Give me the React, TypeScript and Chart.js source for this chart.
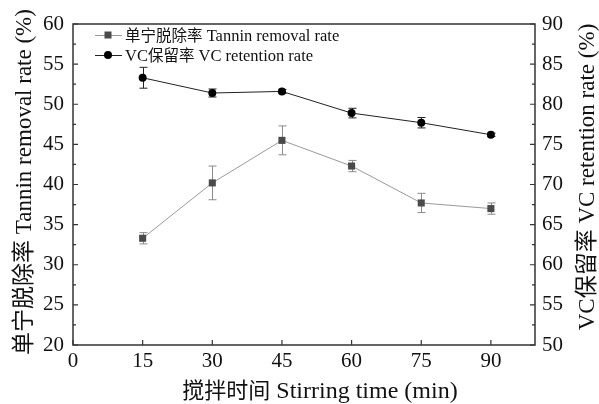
import React, { useEffect, useRef } from "react";
import { Chart, registerables } from "chart.js";

Chart.register(...registerables);

// ---- data ----
const stirringTimes = [15, 30, 45, 60, 75, 90];
const tanninRemoval = [33.3, 40.2, 45.5, 42.3, 37.7, 37.0];
const tanninError = [0.7, 2.1, 1.8, 0.7, 1.2, 0.7];
const vcRetention = [83.3, 81.4, 81.6, 78.9, 77.7, 76.2];
const vcError = [1.3, 0.5, 0.25, 0.6, 0.65, 0.2];

const xTickValues = [0, 15, 30, 45, 60, 75, 90];
const leftTickValues = [20, 25, 30, 35, 40, 45, 50, 55, 60];
const rightTickValues = [50, 55, 60, 65, 70, 75, 80, 85, 90];

const SERIF = "'Liberation Serif', 'Times New Roman', serif";
const CJK = "'Noto Sans CJK SC', sans-serif";

type Seg = { t: string; f: string };

function drawSegs(ctx: CanvasRenderingContext2D, segs: Seg[], x: number, y: number, align: "left" | "center") {
  const widths = segs.map((s) => {
    ctx.font = s.f;
    return ctx.measureText(s.t).width;
  });
  const total = widths.reduce((a, b) => a + b, 0);
  let cx = align === "center" ? x - total / 2 : x;
  ctx.textAlign = "left";
  ctx.textBaseline = "alphabetic";
  segs.forEach((s, i) => {
    ctx.font = s.f;
    ctx.fillText(s.t, cx, y);
    cx += widths[i];
  });
}

const TANNIN_LINE = "#9a9a9a";
const TANNIN_MARK = "#4a4a4a";
const TANNIN_ERR = "#8a8a8a";
const VC_LINE = "#222222";
const VC_MARK = "#000000";
const VC_ERR = "#222222";

const customPlugin = {
  id: "customDecor",
  beforeDraw(chart: any) {
    const ctx = chart.ctx as CanvasRenderingContext2D;
    ctx.save();
    ctx.fillStyle = "#ffffff";
    ctx.fillRect(0, 0, chart.width, chart.height);
    ctx.restore();
  },
  beforeDatasetsDraw(chart: any) {
    const ctx = chart.ctx as CanvasRenderingContext2D;
    const xs = chart.scales.x;
    const sets = [
      { scale: chart.scales.yL, vals: tanninRemoval, errs: tanninError, color: TANNIN_ERR },
      { scale: chart.scales.yR, vals: vcRetention, errs: vcError, color: VC_ERR },
    ];
    ctx.save();
    ctx.lineWidth = 1;
    sets.forEach((s) => {
      ctx.strokeStyle = s.color;
      stirringTimes.forEach((t, i) => {
        const px = Math.round(xs.getPixelForValue(t)) + 0.5;
        const yt = s.scale.getPixelForValue(s.vals[i] + s.errs[i]);
        const yb = s.scale.getPixelForValue(s.vals[i] - s.errs[i]);
        ctx.beginPath();
        ctx.moveTo(px, yt);
        ctx.lineTo(px, yb);
        ctx.moveTo(px - 4, yt);
        ctx.lineTo(px + 4, yt);
        ctx.moveTo(px - 4, yb);
        ctx.lineTo(px + 4, yb);
        ctx.stroke();
      });
    });
    ctx.restore();
  },
  afterDraw(chart: any) {
    const ctx = chart.ctx as CanvasRenderingContext2D;
    const a = chart.chartArea;
    const xs = chart.scales.x;
    const yl = chart.scales.yL;
    const yr = chart.scales.yR;
    ctx.save();
    // frame
    ctx.strokeStyle = "#333333";
    ctx.lineWidth = 1.5;
    ctx.strokeRect(a.left, a.top, a.right - a.left, a.bottom - a.top);

    // ticks
    ctx.lineWidth = 1.2;
    const major = 5;
    const minor = 3;
    ctx.beginPath();
    const drawY = (scale: any, vals: number[], side: "left" | "right") => {
      const all: { v: number; m: boolean }[] = [];
      vals.forEach((v, i) => {
        all.push({ v, m: true });
        if (i < vals.length - 1) all.push({ v: (v + vals[i + 1]) / 2, m: false });
      });
      all.forEach(({ v, m }) => {
        const py = scale.getPixelForValue(v);
        const len = m ? major : minor;
        if (side === "left") {
          ctx.moveTo(a.left, py);
          ctx.lineTo(a.left + len, py);
        } else {
          ctx.moveTo(a.right, py);
          ctx.lineTo(a.right - len, py);
        }
      });
    };
    drawY(yl, leftTickValues, "left");
    drawY(yr, rightTickValues, "right");
    xTickValues.forEach((v) => {
      const px = xs.getPixelForValue(v);
      ctx.moveTo(px, a.bottom);
      ctx.lineTo(px, a.bottom - major);
    });
    ctx.stroke();

    ctx.fillStyle = "#111111";
    // x title
    drawSegs(
      ctx,
      [
        { t: "搅拌时间", f: `22px ${CJK}` },
        { t: " Stirring time (min)", f: `24px ${SERIF}` },
      ],
      (a.left + a.right) / 2 + 16,
      398,
      "center"
    );
    // left title
    ctx.save();
    ctx.translate(31, 182);
    ctx.rotate(-Math.PI / 2);
    drawSegs(
      ctx,
      [
        { t: "单宁脱除率", f: `23px ${CJK}` },
        { t: " Tannin removal rate (%)", f: `23px ${SERIF}` },
      ],
      0,
      0,
      "center"
    );
    ctx.restore();
    // right title
    ctx.save();
    ctx.translate(594, 177);
    ctx.rotate(-Math.PI / 2);
    drawSegs(
      ctx,
      [
        { t: "VC", f: `23px ${SERIF}` },
        { t: "保留率", f: `23px ${CJK}` },
        { t: " VC retention rate (%)", f: `23px ${SERIF}` },
      ],
      0,
      0,
      "center"
    );
    ctx.restore();

    // legend
    const lx0 = 95;
    const lx1 = 122;
    const mx = 108;
    const tx = 125;
    const r1 = 35;
    const r2 = 55;
    ctx.lineWidth = 1;
    ctx.strokeStyle = TANNIN_LINE;
    ctx.beginPath();
    ctx.moveTo(lx0, r1 + 0.5);
    ctx.lineTo(lx1, r1 + 0.5);
    ctx.stroke();
    ctx.fillStyle = TANNIN_MARK;
    ctx.fillRect(mx - 3.5, r1 - 3.5, 7, 7);
    ctx.strokeStyle = VC_LINE;
    ctx.beginPath();
    ctx.moveTo(lx0, r2 + 0.5);
    ctx.lineTo(lx1, r2 + 0.5);
    ctx.stroke();
    ctx.fillStyle = VC_MARK;
    ctx.beginPath();
    ctx.arc(mx, r2, 4, 0, Math.PI * 2);
    ctx.fill();

    ctx.fillStyle = "#111111";
    drawSegs(
      ctx,
      [
        { t: "单宁脱除率", f: `15.5px ${CJK}` },
        { t: " Tannin removal rate", f: `16.5px ${SERIF}` },
      ],
      tx,
      r1 + 5.5,
      "left"
    );
    drawSegs(
      ctx,
      [
        { t: "VC", f: `16.5px ${SERIF}` },
        { t: "保留率", f: `15.5px ${CJK}` },
        { t: " VC retention rate", f: `16.5px ${SERIF}` },
      ],
      tx,
      r2 + 5.5,
      "left"
    );
    ctx.restore();
  },
};

export default function App() {
  const canvasRef = useRef<HTMLCanvasElement | null>(null);

  useEffect(() => {
    if (!canvasRef.current) return;
    const tickFont = { family: SERIF, size: 21 };
    const chart = new Chart(canvasRef.current, {
      type: "line",
      data: {
        datasets: [
          {
            label: "单宁脱除率 Tannin removal rate",
            data: stirringTimes.map((t, i) => ({ x: t, y: tanninRemoval[i] })),
            yAxisID: "yL",
            borderColor: TANNIN_LINE,
            borderWidth: 1,
            pointStyle: "rect",
            pointRadius: 5,
            pointBackgroundColor: TANNIN_MARK,
            pointBorderColor: TANNIN_MARK,
            pointBorderWidth: 0,
            tension: 0,
          },
          {
            label: "VC保留率 VC retention rate",
            data: stirringTimes.map((t, i) => ({ x: t, y: vcRetention[i] })),
            yAxisID: "yR",
            borderColor: VC_LINE,
            borderWidth: 1,
            pointStyle: "circle",
            pointRadius: 4,
            pointBackgroundColor: VC_MARK,
            pointBorderColor: VC_MARK,
            pointBorderWidth: 0,
            tension: 0,
          },
        ],
      },
      options: {
        responsive: false,
        animation: false,
        layout: { padding: { top: 24, left: 0, right: 0, bottom: 0 } },
        plugins: { legend: { display: false }, tooltip: { enabled: false } },
        scales: {
          x: {
            type: "linear",
            min: 0,
            max: 99.5,
            afterBuildTicks: (s: any) => {
              s.ticks = xTickValues.map((v) => ({ value: v }));
            },
            afterFit: (s: any) => {
              s.height = 59;
            },
            grid: { display: false, drawTicks: false },
            border: { display: false },
            ticks: { font: tickFont, color: "#111", padding: 4, autoSkip: false, maxRotation: 0 },
          },
          yL: {
            type: "linear",
            position: "left",
            min: 20,
            max: 60,
            afterBuildTicks: (s: any) => {
              s.ticks = leftTickValues.map((v) => ({ value: v }));
            },
            afterFit: (s: any) => {
              s.width = 73;
            },
            grid: { display: false, drawTicks: false },
            border: { display: false },
            ticks: { font: tickFont, color: "#111", padding: 9, autoSkip: false },
          },
          yR: {
            type: "linear",
            position: "right",
            min: 50,
            max: 90,
            afterBuildTicks: (s: any) => {
              s.ticks = rightTickValues.map((v) => ({ value: v }));
            },
            afterFit: (s: any) => {
              s.width = 64;
            },
            grid: { display: false, drawTicks: false },
            border: { display: false },
            ticks: { font: tickFont, color: "#111", padding: 7, autoSkip: false },
          },
        },
      },
      plugins: [customPlugin],
    });
    return () => chart.destroy();
  }, []);

  return (
    <div style={{ position: "absolute", left: 0, top: 0, width: 599, height: 404 }}>
      <canvas ref={canvasRef} width={599} height={404} style={{ display: "block", width: 599, height: 404 }} />
    </div>
  );
}
